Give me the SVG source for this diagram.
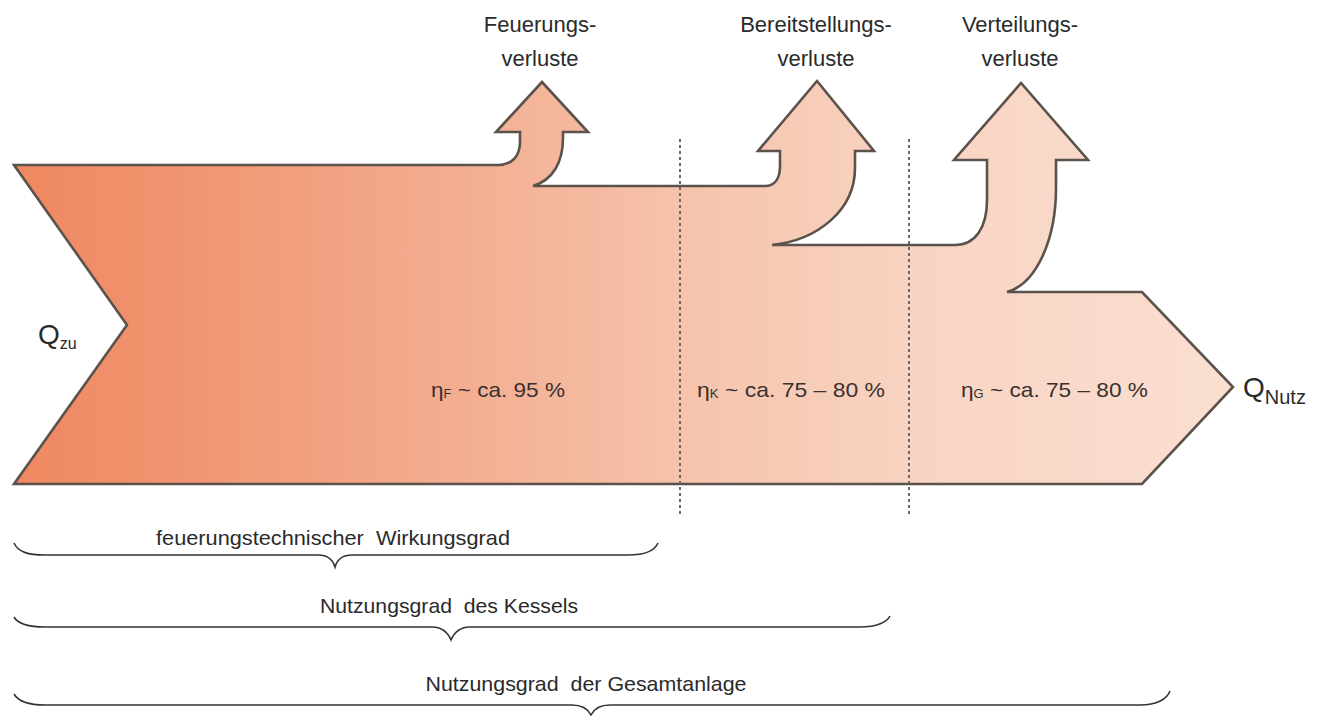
<svg xmlns="http://www.w3.org/2000/svg" width="1323" height="716" viewBox="0 0 1323 716">
<style>
text{font-family:"Liberation Sans",Arial,sans-serif;fill:#2a2a2a}
.lbl{font-size:22px;text-anchor:middle}
.eta{font-size:21px;fill:#3a3030}
.esub{font-size:12px}
.br{fill:none;stroke:#333;stroke-width:1.6}
.bt{font-size:21px;text-anchor:middle}
.dot{stroke:#6a6a6a;stroke-width:2;stroke-dasharray:3 3}
</style>
<defs>
<linearGradient id="g" gradientUnits="userSpaceOnUse" x1="14" y1="0" x2="1233" y2="0">
<stop offset="0" stop-color="#EF8860"/>
<stop offset="0.12" stop-color="#F0936E"/>
<stop offset="0.36" stop-color="#F3AD90"/>
<stop offset="0.56" stop-color="#F6C4AD"/>
<stop offset="0.74" stop-color="#F8D4C2"/>
<stop offset="1" stop-color="#FADFD1"/>
</linearGradient>
</defs>
<g id="flow">
<path d="M14,165 L498,165 C512,165 520,156 520,142 L520,132 L496,132 L542,82 L588,132 L563,132 L563,138 C563,162 553,180 533,186 L765,186 C775,186 780,178 780,166 L780,151 L758,151 L817,81 L874,151 L855,151 L855,168 C855,210 818,240 772,245 L955,245 C975,245 987,228 987,200 L987,160 L954,160 L1021,83 L1088,160 L1056,160 L1056,188 C1056,240 1036,284 1007,292 L1142,292 L1233,387 L1142,484 L14,484 L127,325 Z" fill="url(#g)" stroke="#5B524C" stroke-width="2.6" stroke-linejoin="miter"/>
</g>
<g id="connectors">
<line class="dot" x1="680" y1="139" x2="680" y2="517"/>
<line class="dot" x1="909" y1="139" x2="909" y2="517"/>
</g>
<g id="label-feuerung">
<text class="lbl" x="540" y="32">Feuerungs-</text>
<text class="lbl" x="540" y="66">verluste</text>
</g>
<g id="label-bereit">
<text class="lbl" x="816" y="32">Bereitstellungs-</text>
<text class="lbl" x="816" y="66">verluste</text>
</g>
<g id="label-verteil">
<text class="lbl" x="1020" y="32">Verteilungs-</text>
<text class="lbl" x="1020" y="66">verluste</text>
</g>
<g id="q-zu">
<text x="38" y="344" font-size="28">Q<tspan font-size="16" dy="5">zu</tspan></text>
</g>
<g id="q-nutz">
<text x="1243" y="397" font-size="28">Q<tspan font-size="20" dy="7">Nutz</tspan></text>
</g>
<g id="eta-f">
<text class="eta" x="431" y="397" textLength="134" lengthAdjust="spacingAndGlyphs">η<tspan class="esub" dy="1">F</tspan><tspan dy="-1"> ~ ca. 95 %</tspan></text>
</g>
<g id="eta-k">
<text class="eta" x="697" y="397" textLength="188" lengthAdjust="spacingAndGlyphs">η<tspan class="esub" dy="1">K</tspan><tspan dy="-1"> ~ ca. 75 – 80 %</tspan></text>
</g>
<g id="eta-g">
<text class="eta" x="961" y="397" textLength="187" lengthAdjust="spacingAndGlyphs">η<tspan class="esub" dy="1">G</tspan><tspan dy="-1"> ~ ca. 75 – 80 %</tspan></text>
</g>
<g id="brace-1">
<path class="br" d="M14,543 C18,552 28,555 45,555 L318,555 C328,555 333,560 335,567 C337,560 342,555 352,555 L628,555 C645,555 655,550 658,543"/>
<text class="bt" x="333" y="545" textLength="354" lengthAdjust="spacingAndGlyphs" xml:space="preserve">feuerungstechnischer  Wirkungsgrad</text>
</g>
<g id="brace-2">
<path class="br" d="M14,617 C18,624 28,627 45,627 L432,627 C443,627 448,633 451,640 C454,633 459,627 470,627 L860,627 C877,627 887,622 890,616"/>
<text class="bt" x="449" y="613" textLength="258" lengthAdjust="spacingAndGlyphs" xml:space="preserve">Nutzungsgrad  des Kessels</text>
</g>
<g id="brace-3">
<path class="br" d="M14,694 C18,701 28,705 45,705 L572,705 C583,705 588,709 591,715 C594,709 599,705 610,705 L1140,705 C1157,705 1167,699 1170,691"/>
<text class="bt" x="586" y="691" textLength="321" lengthAdjust="spacingAndGlyphs" xml:space="preserve">Nutzungsgrad  der Gesamtanlage</text>
</g>
</svg>
